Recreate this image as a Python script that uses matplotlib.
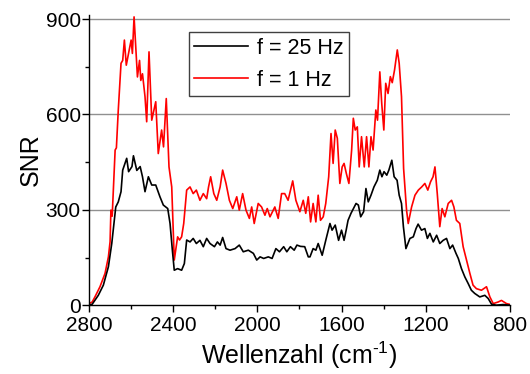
import matplotlib
matplotlib.use("Agg")
from matplotlib import pyplot as plt
from matplotlib.ticker import MultipleLocator

plt.rcParams["font.family"] = ["Liberation Sans", "DejaVu Sans"]
plt.rcParams["mathtext.fontset"] = "custom"
plt.rcParams["mathtext.rm"] = "Liberation Sans"

# f = 1 Hz (red)
wn_1hz = [2800, 2785, 2772, 2748, 2724, 2708, 2700, 2696, 2690, 2676, 2670, 2661, 2648, 2640,
          2632, 2623, 2609, 2600, 2594, 2586, 2578, 2570, 2560, 2554, 2546, 2534, 2526, 2515,
          2502, 2483, 2471, 2455, 2446, 2433, 2420, 2407, 2395, 2379, 2370, 2360, 2350, 2336,
          2320, 2305, 2290, 2273, 2257, 2241, 2232, 2222, 2207, 2193, 2177, 2165, 2149, 2133,
          2117, 2098, 2086, 2070, 2054, 2038, 2027, 2015, 1996, 1980, 1964, 1953, 1940, 1917,
          1901, 1885, 1870, 1854, 1832, 1817, 1798, 1782, 1770, 1758, 1747, 1735, 1722, 1711,
          1700, 1687, 1675, 1661, 1650, 1640, 1630, 1620, 1608, 1597, 1588, 1577, 1565, 1552,
          1544, 1535, 1525, 1516, 1505, 1492, 1481, 1470, 1460, 1450, 1437, 1429, 1418, 1409,
          1399, 1390, 1379, 1368, 1359, 1348, 1335, 1326, 1315, 1305, 1291, 1283, 1267, 1251,
          1235, 1219, 1204, 1190, 1177, 1165, 1156, 1145, 1133, 1122, 1109, 1093, 1077, 1066,
          1054, 1038, 1022, 1006, 990, 975, 959, 935, 911, 895, 879, 856, 840, 816, 803]
snr_1hz = [5, 10, 26, 58, 100, 152, 200, 299, 280, 488, 495, 614, 761, 770,
           834, 755, 803, 834, 792, 907, 813, 718, 770, 707, 728, 656, 577, 797,
           582, 640, 477, 551, 498, 650, 435, 372, 142, 215, 205, 215, 257, 362,
           372, 351, 362, 330, 351, 335, 372, 404, 351, 330, 372, 425, 383, 330,
           304, 341, 299, 351, 299, 273, 309, 257, 320, 309, 283, 304, 278, 309,
           273, 351, 351, 330, 391, 330, 294, 330, 289, 341, 262, 320, 262, 346,
           267, 278, 320, 404, 540, 446, 551, 525, 383, 435, 446, 414, 383, 488,
           588, 551, 561, 435, 530, 435, 530, 435, 530, 488, 614, 582, 734, 635,
           551, 698, 666, 719, 700, 740, 803, 761, 656, 430, 299, 257, 309, 346,
           362, 372, 383, 362, 388, 404, 435, 351, 247, 304, 278, 320, 330, 309,
           267, 257, 184, 142, 100, 63, 52, 47, 58, 26, 5, 10, 15, 5, 3]

# f = 25 Hz (black)
wn_25hz = [2800, 2785, 2756, 2732, 2708, 2692, 2673, 2661, 2648, 2640, 2621, 2612, 2596, 2589,
           2573, 2557, 2546, 2534, 2518, 2502, 2483, 2463, 2447, 2426, 2415, 2404, 2395, 2379,
           2360, 2347, 2336, 2320, 2305, 2290, 2273, 2257, 2241, 2225, 2204, 2190, 2177, 2165,
           2149, 2130, 2106, 2086, 2067, 2043, 2019, 2003, 1987, 1970, 1948, 1930, 1912, 1895,
           1875, 1860, 1843, 1825, 1812, 1795, 1775, 1758, 1750, 1735, 1722, 1711, 1692, 1675,
           1655, 1645, 1630, 1614, 1600, 1588, 1578, 1569, 1555, 1531, 1520, 1509, 1495, 1484,
           1473, 1460, 1446, 1430, 1418, 1408, 1398, 1385, 1375, 1361, 1350, 1336, 1326, 1315,
           1306, 1294, 1275, 1259, 1246, 1236, 1220, 1204, 1192, 1180, 1164, 1148, 1133, 1117,
           1101, 1085, 1072, 1056, 1045, 1030, 1014, 998, 983, 967, 943, 919, 903, 887, 864,
           832, 800]
snr_25hz = [0, 3, 31, 63, 121, 194, 309, 325, 357, 425, 462, 420, 436, 470,
            424, 436, 404, 357, 404, 378, 378, 341, 315, 304, 257, 173, 110, 115,
            110, 131, 205, 199, 210, 194, 204, 184, 210, 194, 184, 199, 189, 213,
            178, 173, 178, 189, 168, 173, 163, 142, 152, 147, 152, 147, 178, 168,
            184, 168, 184, 173, 189, 185, 184, 152, 152, 178, 173, 194, 157, 204,
            257, 236, 252, 204, 236, 204, 236, 267, 289, 320, 315, 278, 294, 367,
            325, 346, 372, 393, 425, 404, 420, 409, 425, 456, 404, 393, 346, 320,
            247, 178, 210, 215, 241, 255, 236, 241, 210, 226, 199, 220, 194, 204,
            210, 178, 189, 163, 147, 115, 89, 68, 47, 37, 26, 31, 21, 3, 0,
            2, 0]

fig = plt.figure(figsize=(5.3, 3.74), dpi=100)
ax = fig.add_axes([0.168, 0.184, 0.794, 0.776])

ax.plot(wn_25hz, snr_25hz, color="black", lw=1.2, label="f = 25 Hz", zorder=3)
ax.plot(wn_1hz, snr_1hz, color="red", lw=1.2, label="f = 1 Hz", zorder=2)

ax.set_xlim(2800, 800)
ax.set_ylim(0, 913)
ax.xaxis.set_major_locator(MultipleLocator(400))
ax.xaxis.set_minor_locator(MultipleLocator(200))
ax.yaxis.set_major_locator(MultipleLocator(300))
ax.yaxis.set_minor_locator(MultipleLocator(150))
ax.tick_params(which="major", length=5, width=1, labelsize=15, pad=1)
ax.tick_params(axis="x", which="major", pad=3)
ax.tick_params(which="minor", length=3, width=1)

for s in ["top", "right"]:
    ax.spines[s].set_visible(False)
for s in ["left", "bottom"]:
    ax.spines[s].set_linewidth(1)

for v in [300, 600, 900]:
    ax.axhline(v, color="#909090", lw=1, zorder=1)

ax.set_xlabel("Wellenzahl (cm$^{\\mathregular{\u2010}1}$)", fontsize=18, labelpad=3)
ax.set_ylabel("SNR", fontsize=18, labelpad=2)

leg = ax.legend(loc="upper left", bbox_to_anchor=(0.2375, 0.940), borderaxespad=0,
                fontsize=15.5, fancybox=False, framealpha=1, edgecolor="#404040",
                handlelength=2.5, handletextpad=0.4, borderpad=0.25, labelspacing=0.5)
leg.get_frame().set_linewidth(1)

fig.savefig("out.png", dpi=100)
